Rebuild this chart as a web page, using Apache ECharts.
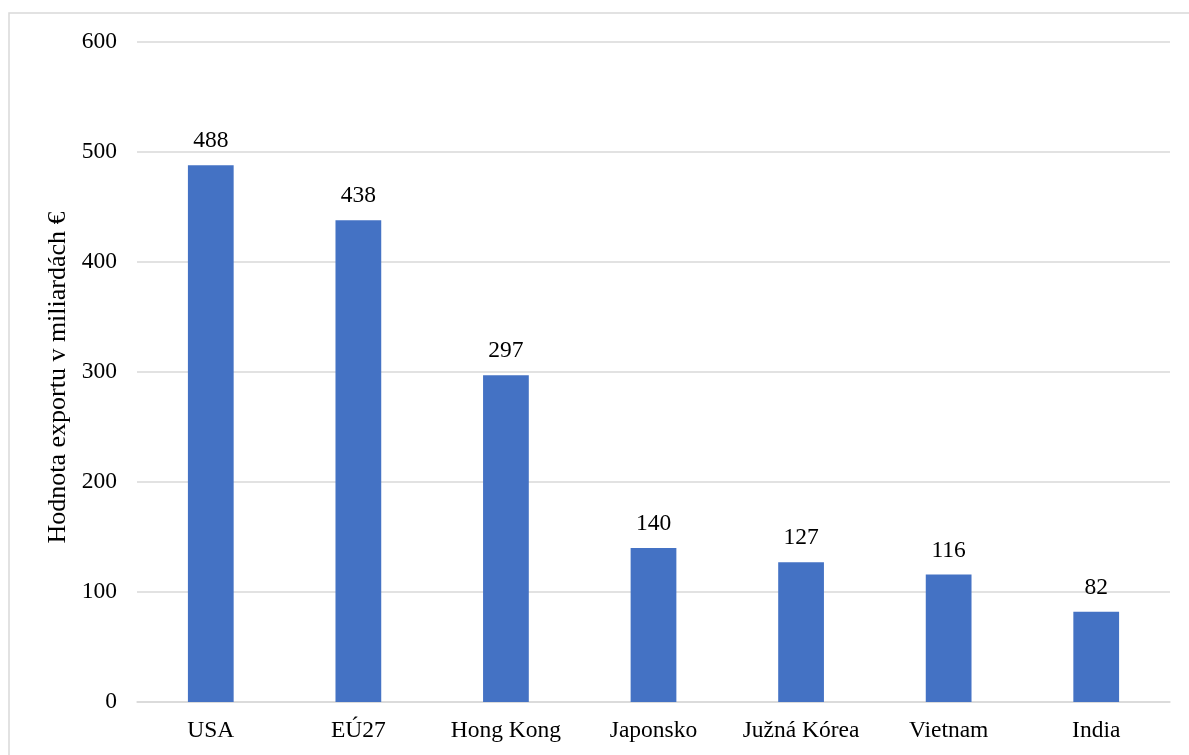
<!DOCTYPE html>
<html>
<head>
<meta charset="utf-8">
<script src="https://cdn.jsdelivr.net/npm/echarts@6/dist/echarts.min.js"></script>
<style>
html,body{margin:0;padding:0;background:#fff;}
#chart{width:1189px;height:755px;}
</style>
</head>
<body>
<div id="chart"></div>
<script>
const categories = ['USA', 'EÚ27', 'Hong Kong', 'Japonsko', 'Južná Kórea', 'Vietnam', 'India'];
const values = [488, 438, 297, 140, 127, 116, 82];
const yAxisTitle = 'Hodnota exportu v miliardách €';

const chart = echarts.init(document.getElementById('chart'));
const font = '"Liberation Serif", "Times New Roman", serif';
chart.setOption({
  animation: false,
  backgroundColor: '#fff',
  graphic: [{
    type: 'rect',
    shape: { x: 9, y: 13, width: 1300, height: 900 },
    style: { fill: 'none', stroke: '#d9d9d9', lineWidth: 1.5 },
    silent: true
  }],
  grid: { left: 137, right: 19, top: 42, bottom: 53 },
  xAxis: {
    type: 'category',
    data: categories,
    axisLine: { lineStyle: { color: '#d9d9d9', width: 1.5 } },
    axisTick: { show: false },
    axisLabel: { color: '#000', fontFamily: font, fontSize: 23.5, margin: 17, interval: 0 }
  },
  yAxis: {
    type: 'value',
    min: 0, max: 600, interval: 100,
    name: yAxisTitle,
    nameLocation: 'middle',
    nameGap: 64,
    nameTextStyle: { color: '#000', fontFamily: font, fontSize: 26, padding: [0, 11, 0, 0] },
    axisLine: { show: false },
    axisTick: { show: false },
    axisLabel: { color: '#000', fontFamily: font, fontSize: 23.5, margin: 20 },
    splitLine: { lineStyle: { color: '#d9d9d9', width: 1.5 } }
  },
  series: [{
    type: 'bar',
    data: values,
    barWidth: '31%',
    itemStyle: { color: '#4472C4' },
    label: { show: true, position: 'top', distance: 12, color: '#000', fontFamily: font, fontSize: 23.5 }
  }]
});
</script>
</body>
</html>
